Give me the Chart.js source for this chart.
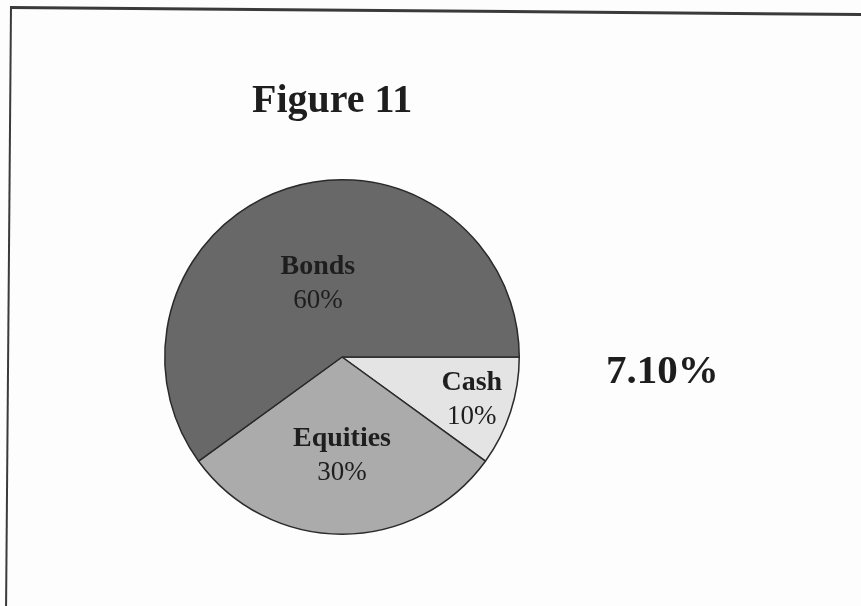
<!DOCTYPE html>
<html>
<head>
<meta charset="utf-8">
<script src="https://cdn.jsdelivr.net/npm/chart.js@4/dist/chart.umd.min.js"></script>
<style>
  html, body { margin: 0; padding: 0; background: #fdfdfd; }
  #wrap { position: relative; width: 861px; height: 606px; overflow: hidden; }
  #frame { position: absolute; left: 10px; top: 6px; width: 900px; height: 640px;
           border-top: 3px solid #3a3a3a; border-left: 2px solid #3a3a3a;
           transform-origin: 0 0; transform: rotate(0.47deg); }
  canvas { position: absolute; left: 0; top: 0; }
  .txt { position: absolute; font-family: "Liberation Serif", "DejaVu Serif", serif;
         font-weight: bold; color: #1e1e1e; white-space: nowrap; line-height: 1; }
  #title { left: 252px; top: 79px; font-size: 40px; }
  #rate { left: 606px; top: 349px; font-size: 41px; }
</style>
</head>
<body>
<div id="wrap">
  <div id="frame"></div>
  <canvas id="pieChart" width="861" height="606"></canvas>
  <div id="title" class="txt">Figure 11</div>
  <div id="rate" class="txt">7.10%</div>
</div>
<script>
// slices, clockwise from 3 o'clock
const categories = ['Cash', 'Equities', 'Bonds']
const shares = [10, 30, 60]
const sliceColors = ['#e4e4e4', '#ababab', '#686868']
// how far out along the slice the label sits
const labelRadius = [0.77, 0.55, 0.44]

const sliceLabels = {
    id: 'sliceLabels',
    afterDatasetsDraw(chart) {
        let ctx = chart.ctx
        let meta = chart.getDatasetMeta(0)
        ctx.save()
        ctx.fillStyle = '#1e1e1e'
        ctx.textAlign = 'center'
        ctx.textBaseline = 'middle'
        meta.data.forEach((arc, i) => {
            let mid = (arc.startAngle + arc.endAngle) / 2
            let r = arc.outerRadius * labelRadius[i]
            let x = arc.x + Math.cos(mid) * r
            let y = arc.y + Math.sin(mid) * r
            ctx.font = 'bold 28px "Liberation Serif"'
            ctx.fillText(categories[i], x, y - 16)
            ctx.font = '27px "Liberation Serif"'
            ctx.fillText(shares[i] + '%', x, y + 18)
        })
        ctx.restore()
    }
}

let chartobj = document.getElementById('pieChart')
let pieChart = new Chart(chartobj, {
    type: 'pie',
    data: {
        labels: categories,
        datasets: [{
            data: shares,
            backgroundColor: sliceColors,
            borderColor: '#2a2a2a',
            borderWidth: 1.5
        }]
    },
    options: {
        responsive: false,
        animation: false,
        rotation: 90,
        layout: { padding: { left: 164, right: 341, top: 179, bottom: 71 } },
        plugins: {
            legend: { display: false },
            tooltip: { enabled: false }
        }
    },
    plugins: [sliceLabels]
});
</script>
</body>
</html>
